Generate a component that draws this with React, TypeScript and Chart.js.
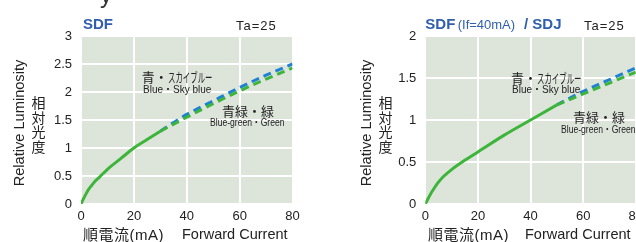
import React, { useEffect, useRef } from "react";
import { Chart, registerables } from "chart.js";

Chart.register(...registerables);

// ---------- data ----------
const xTicks = [0, 20, 40, 60, 80];
const leftYTicks = ["0", "0.5", "1", "1.5", "2", "2.5", "3"];
const rightYTicks = ["0", "0.5", "1", "1.5", "2"];

// Left chart: SDF
const leftSolidX = [0, 1, 2, 3, 4, 5, 7, 10, 15, 20, 25, 30];
const leftSolidY = [0, 0.1, 0.19, 0.27, 0.33, 0.39, 0.48, 0.62, 0.81, 1.0, 1.15, 1.3];
const leftDashX = [30, 40, 50, 60, 70, 80];
const leftBlueY = [1.3, 1.6, 1.84, 2.08, 2.3, 2.5];
const leftGreenY = [1.3, 1.55, 1.79, 2.02, 2.23, 2.43];

// Right chart: SDF (If=40mA) / SDJ
const rightSolidX = [0, 1, 2, 3, 5, 7, 10, 15, 20, 30, 40, 50];
const rightSolidY = [0, 0.06, 0.12, 0.17, 0.26, 0.33, 0.41, 0.52, 0.62, 0.82, 1.0, 1.18];
const rightDashX = [50, 60, 70, 80];
const rightBlueY = [1.18, 1.34, 1.48, 1.62];
const rightGreenY = [1.18, 1.31, 1.44, 1.57];

const BLUE = "#1f82d0";
const GREEN = "#3db43a";
const TITLE_BLUE = "#2f5fae";
const PLOT_BG = "#dde5db";
const FONT = "'Liberation Sans', Arial, sans-serif";
const JP = "'Liberation Sans', 'Noto Sans CJK JP', sans-serif";

const pts = (xs: number[], ys: number[]) => xs.map((x, i) => ({ x, y: ys[i] }));

const bgPlugin = {
  id: "plotBg",
  beforeDraw(chart: any) {
    const { ctx, chartArea } = chart;
    ctx.save();
    ctx.fillStyle = PLOT_BG;
    ctx.fillRect(chartArea.left, chartArea.top, chartArea.right - chartArea.left, chartArea.bottom - chartArea.top);
    ctx.restore();
  },
};

type ChartProps = {
  left: number;
  width: number;
  solidX: number[];
  solidY: number[];
  dashX: number[];
  blueY: number[];
  greenY: number[];
  yMax: number;
  yLabels: string[];
  padding: { left: number; right: number; top: number; bottom: number };
};

function LineChart(p: ChartProps) {
  const ref = useRef<HTMLCanvasElement>(null);
  useEffect(() => {
    const line = (data: any, color: string, dashed: boolean) => ({
      data,
      borderColor: color,
      backgroundColor: color,
      borderWidth: 3,
      borderDash: dashed ? [8, 5] : [],
      pointRadius: 0,
      tension: 0.4,
      cubicInterpolationMode: "monotone",
      fill: false,
    });
    const chart = new Chart(ref.current as HTMLCanvasElement, {
      type: "line",
      data: {
        datasets: [
          line(pts(p.dashX, p.greenY), GREEN, true),
          line(pts(p.dashX, p.blueY), BLUE, true),
          line(pts(p.solidX, p.solidY), GREEN, false),
        ] as any,
      },
      options: {
        animation: false,
        responsive: false,
        maintainAspectRatio: false,
        layout: { padding: p.padding },
        plugins: { legend: { display: false }, tooltip: { enabled: false } },
        scales: {
          x: {
            type: "linear",
            min: 0,
            max: 80,
            afterBuildTicks: (s: any) => {
              s.ticks = xTicks.map((v) => ({ value: v }));
            },
            afterFit: (s: any) => {
              s.height = 20;
            },
            grid: { color: "#ffffff", lineWidth: 2, drawTicks: false },
            border: { display: false },
            ticks: {
              padding: 5,
              color: "#222",
              font: { family: FONT, size: 13 },
              callback: (v: any) => String(v),
            },
          },
          y: {
            type: "linear",
            min: 0,
            max: p.yMax,
            afterBuildTicks: (s: any) => {
              s.ticks = p.yLabels.map((l) => ({ value: parseFloat(l) }));
            },
            afterFit: (s: any) => {
              s.width = 30;
            },
            grid: { color: "#ffffff", lineWidth: 2, drawTicks: false },
            border: { display: false },
            ticks: {
              padding: 9,
              color: "#222",
              font: { family: FONT, size: 13 },
              callback: (v: any) => {
                const f = p.yLabels.find((l) => parseFloat(l) === v);
                return f ?? String(v);
              },
            },
          },
        },
      },
      plugins: [bgPlugin],
    });
    return () => chart.destroy();
  }, []);
  return (
    <canvas
      ref={ref}
      width={p.width}
      height={242}
      style={{ position: "absolute", left: p.left, top: 0, width: p.width, height: 242 }}
    />
  );
}

function T(props: {
  x: number;
  cy: number;
  fs: number;
  children: any;
  color?: string;
  bold?: boolean;
  ls?: number;
  family?: string;
  sx?: number;
}) {
  return (
    <div
      style={{
        position: "absolute",
        left: props.x,
        top: props.cy - props.fs / 2,
        fontSize: props.fs,
        lineHeight: props.fs + "px",
        fontFamily: props.family ?? JP,
        fontWeight: props.bold ? "bold" : "normal",
        color: props.color ?? "#222",
        letterSpacing: props.ls ?? 0,
        whiteSpace: "nowrap",
        transform: props.sx ? `scaleX(${props.sx})` : undefined,
        transformOrigin: "left center",
      }}
    >
      {props.children}
    </div>
  );
}

function Kana(props: { text: string }) {
  return (
    <span
      style={{
        display: "inline-block",
        transform: "scaleX(0.57)",
        transformOrigin: "left center",
      }}
    >
      {props.text}
    </span>
  );
}

function YTitle(props: { cx: number; jx: number }) {
  return (
    <>
      <div
        style={{
          position: "absolute",
          left: props.cx - 100,
          top: 122.5 - 8,
          width: 200,
          height: 16,
          lineHeight: "16px",
          fontSize: 14.6,
          fontFamily: FONT,
          color: "#222",
          textAlign: "center",
          transform: "rotate(-90deg)",
          transformOrigin: "center center",
          whiteSpace: "nowrap",
        }}
      >
        Relative Luminosity
      </div>
      <div
        style={{
          position: "absolute",
          left: props.jx,
          top: 95,
          width: 15,
          fontSize: 14,
          lineHeight: "14.5px",
          fontFamily: "'Noto Sans CJK JP', sans-serif",
          color: "#222",
          textAlign: "center",
        }}
      >
        {"相対光度".split("").map((c, i) => (
          <div key={i}>{c}</div>
        ))}
      </div>
    </>
  );
}

export default function App() {
  return (
    <div
      style={{
        position: "fixed",
        left: 0,
        top: 0,
        width: 636,
        height: 242,
        overflow: "hidden",
        background: "#fff",
      }}
    >
      <LineChart
        left={0}
        width={318}
        solidX={leftSolidX}
        solidY={leftSolidY}
        dashX={leftDashX}
        blueY={leftBlueY}
        greenY={leftGreenY}
        yMax={3}
        yLabels={leftYTicks}
        padding={{ left: 51, right: 25.5, top: 36, bottom: 18 }}
      />
      <LineChart
        left={318}
        width={330}
        solidX={rightSolidX}
        solidY={rightSolidY}
        dashX={rightDashX}
        blueY={rightBlueY}
        greenY={rightGreenY}
        yMax={2}
        yLabels={rightYTicks}
        padding={{ left: 77.3, right: 10.7, top: 36, bottom: 18 }}
      />

      {/* clipped heading fragment */}
      <div
        style={{
          position: "absolute",
          left: 100,
          top: -17,
          fontSize: 24,
          lineHeight: "24px",
          fontFamily: FONT,
          color: "#333",
        }}
      >
        y
      </div>

      {/* left chart texts */}
      <T x={83} cy={23} fs={15} bold color={TITLE_BLUE} family={FONT}>SDF</T>
      <T x={236} cy={25} fs={13} ls={1} family={FONT}>Ta=25</T>
      <T x={141.7} cy={77} fs={13}>青・<Kana text="スカイブルー" /></T>
      <T x={143} cy={90} fs={10}>Blue・Sky blue</T>
      <T x={222} cy={111} fs={13}>青緑・緑</T>
      <T x={210} cy={123} fs={10} sx={0.86}>Blue-green・Green</T>
      <T x={83} cy={234} fs={15} ls={0.5}>順電流(mA)</T>
      <T x={182} cy={234} fs={14.5} family={FONT}>Forward Current</T>
      <YTitle cx={19} jx={31} />

      {/* right chart texts */}
      <T x={425.3} cy={23} fs={15} bold color={TITLE_BLUE} family={FONT}>SDF</T>
      <T x={457.7} cy={24} fs={13} color={TITLE_BLUE} family={FONT}>(If=40mA)</T>
      <T x={524} cy={23} fs={15} bold color={TITLE_BLUE} family={FONT}>/ SDJ</T>
      <T x={584} cy={25} fs={13} ls={1} family={FONT}>Ta=25</T>
      <T x={511} cy={78} fs={13}>青・<Kana text="スカイブルー" /></T>
      <T x={512} cy={90} fs={10}>Blue・Sky blue</T>
      <T x={573} cy={117} fs={13}>青緑・緑</T>
      <T x={561} cy={130} fs={10} sx={0.86}>Blue-green・Green</T>
      <T x={428} cy={234} fs={15} ls={0.5}>順電流(mA)</T>
      <T x={525} cy={234} fs={14.5} family={FONT}>Forward Current</T>
      <YTitle cx={366} jx={378} />
    </div>
  );
}
